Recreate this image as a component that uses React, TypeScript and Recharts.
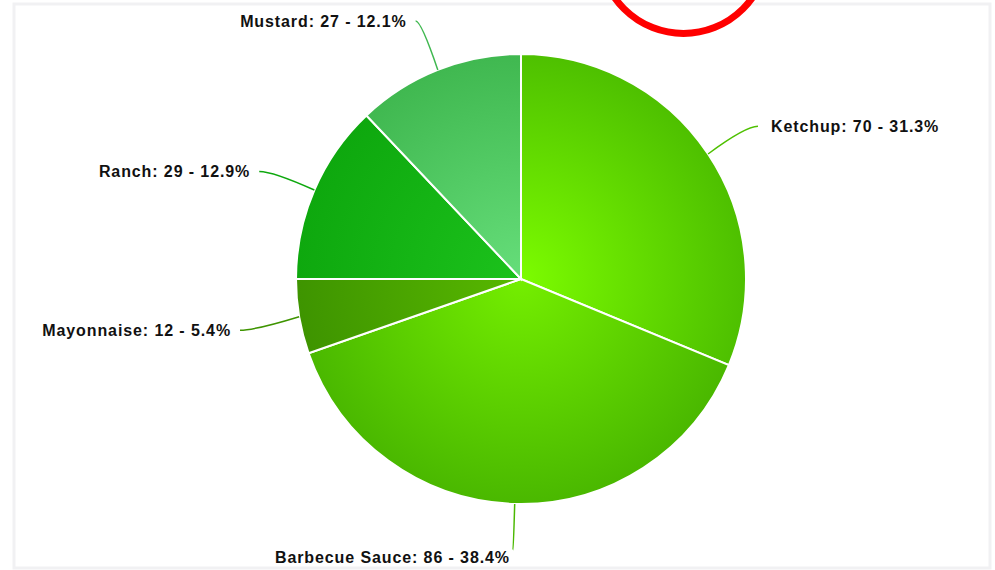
import React from "react";
import { PieChart, Pie, Cell } from "recharts";

const names = ["Ketchup", "Barbecue Sauce", "Mayonnaise", "Ranch", "Mustard"];
const values = [70, 86, 12, 29, 27];
const innerColors = ["#7CFC00", "#74EE00", "#58B800", "#1CC21C", "#66DE7A"];
const outerColors = ["#4EC000", "#4AB800", "#3E9400", "#0EA80E", "#40B850"];

const data = names.map((name, i) => ({ name, value: values[i] }));

const CX = 521;
const CY = 279;
const R = 225;
const RAD = Math.PI / 180;

function renderLabel(props: any) {
  const { cx, cy, midAngle, outerRadius, percent, name, value, index } = props;
  const cos = Math.cos(-midAngle * RAD);
  const sin = Math.sin(-midAngle * RAD);
  const sx = cx + outerRadius * cos;
  const sy = cy + outerRadius * sin;
  const ex = cx + (outerRadius + 60) * cos;
  const ey = Math.min(cy + (outerRadius + 57) * sin + 4, 550);
  const qx = sx + (ex - sx) * 0.75;
  const right = cos >= 0;
  const tx = ex + (right ? 13 : -9);
  const bottom = sin > 0.9;
  return (
    <g>
      <path
        d={`M${sx},${sy} Q${qx},${ey} ${ex},${ey}`}
        stroke={outerColors[index]}
        strokeWidth={1.5}
        fill="none"
      />
      <text
        x={bottom ? ex - 3 : tx}
        y={ey}
        dy={bottom ? 13 : 6}
        textAnchor={right ? "start" : "end"}
        fill="#111"
        fontFamily="'Liberation Sans', Arial, sans-serif"
        fontWeight="bold"
        fontSize={16}
        letterSpacing={0.9}
      >
        {`${name}: ${value} - ${(percent * 100).toFixed(1)}%`}
      </text>
    </g>
  );
}

export default function App() {
  return (
    <div style={{ position: "absolute", left: 0, top: 0, width: 995, height: 570, background: "#fff" }}>
      <svg width={995} height={570} style={{ position: "absolute", left: 0, top: 0 }}>
        <rect x={14} y={4} width={976} height={564} fill="none" stroke="#f1f1f3" strokeWidth={3} />
      </svg>
      <div style={{ position: "absolute", left: 0, top: 0 }}>
        <PieChart width={995} height={570} margin={{ top: 0, right: 0, bottom: 0, left: 0 }}>
          <defs>
            {names.map((n, i) => (
              <radialGradient key={n} id={`grad${i}`} gradientUnits="userSpaceOnUse" cx={CX} cy={CY} r={R}>
                <stop offset="0%" stopColor={innerColors[i]} />
                <stop offset="100%" stopColor={outerColors[i]} />
              </radialGradient>
            ))}
          </defs>
          <Pie
            data={data}
            dataKey="value"
            nameKey="name"
            cx={CX}
            cy={CY}
            outerRadius={R}
            startAngle={90}
            endAngle={-270}
            stroke="#ffffff"
            strokeWidth={2}
            label={renderLabel}
            labelLine={false}
            isAnimationActive={false}
          >
            {data.map((d, i) => (
              <Cell key={d.name} fill={`url(#grad${i})`} />
            ))}
          </Pie>
        </PieChart>
      </div>
      <svg width={995} height={570} style={{ position: "absolute", left: 0, top: 0, pointerEvents: "none" }}>
        <circle cx={683.5} cy={-50.5} r={84} fill="none" stroke="#ff0000" strokeWidth={7} />
      </svg>
    </div>
  );
}
